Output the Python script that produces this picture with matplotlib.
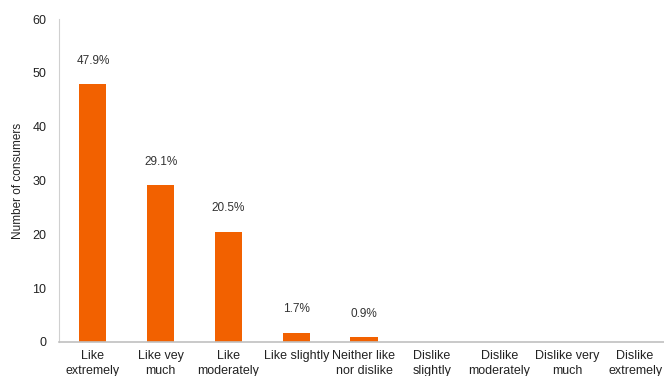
import matplotlib.pyplot as plt

categories = ["Like\nextremely", "Like vey\nmuch", "Like\nmoderately", "Like slightly",
              "Neither like\nnor dislike", "Dislike\nslightly", "Dislike\nmoderately",
              "Dislike very\nmuch", "Dislike\nextremely"]
consumers = [47.9, 29.1, 20.5, 1.7, 0.9, 0, 0, 0, 0]
labels = ["47.9%", "29.1%", "20.5%", "1.7%", "0.9%", "", "", "", ""]

plt.rcParams['font.family'] = ['Liberation Sans', 'DejaVu Sans']

fig = plt.figure(figsize=(6.64, 3.76), dpi=100)
ax = fig.add_axes([59/664, 1-342/376, 610/664, (342-19)/376])

x = range(len(categories))
ax.bar(x, consumers, width=0.4, color='#F26100')
for i, (v, lab) in enumerate(zip(consumers, labels)):
    if lab:
        ax.annotate(lab, (i, v), xytext=(0, 17), textcoords='offset points',
                    ha='center', va='center', fontsize=8.5, color='#333333')

ax.set_xlim(-0.5, len(categories)-0.5)
ax.set_ylim(0, 60)
ax.set_yticks(range(0, 61, 10))
ax.set_xticks(list(x))
ax.set_xticklabels(categories, fontsize=9, color='#222222', linespacing=1.25)
ax.tick_params(axis='y', labelsize=9, labelcolor='#222222', length=0, pad=9)
ax.tick_params(axis='x', length=0, pad=6)
ax.set_ylabel("Number of consumers", fontsize=8.5, color='#222222', labelpad=6)

for s in ['top', 'right']:
    ax.spines[s].set_visible(False)
ax.spines['left'].set_color('#d0d0d0')
ax.spines['bottom'].set_color('#c0c0c0')
ax.spines['bottom'].set_linewidth(1.2)

fig.savefig("out.png", dpi=100)
